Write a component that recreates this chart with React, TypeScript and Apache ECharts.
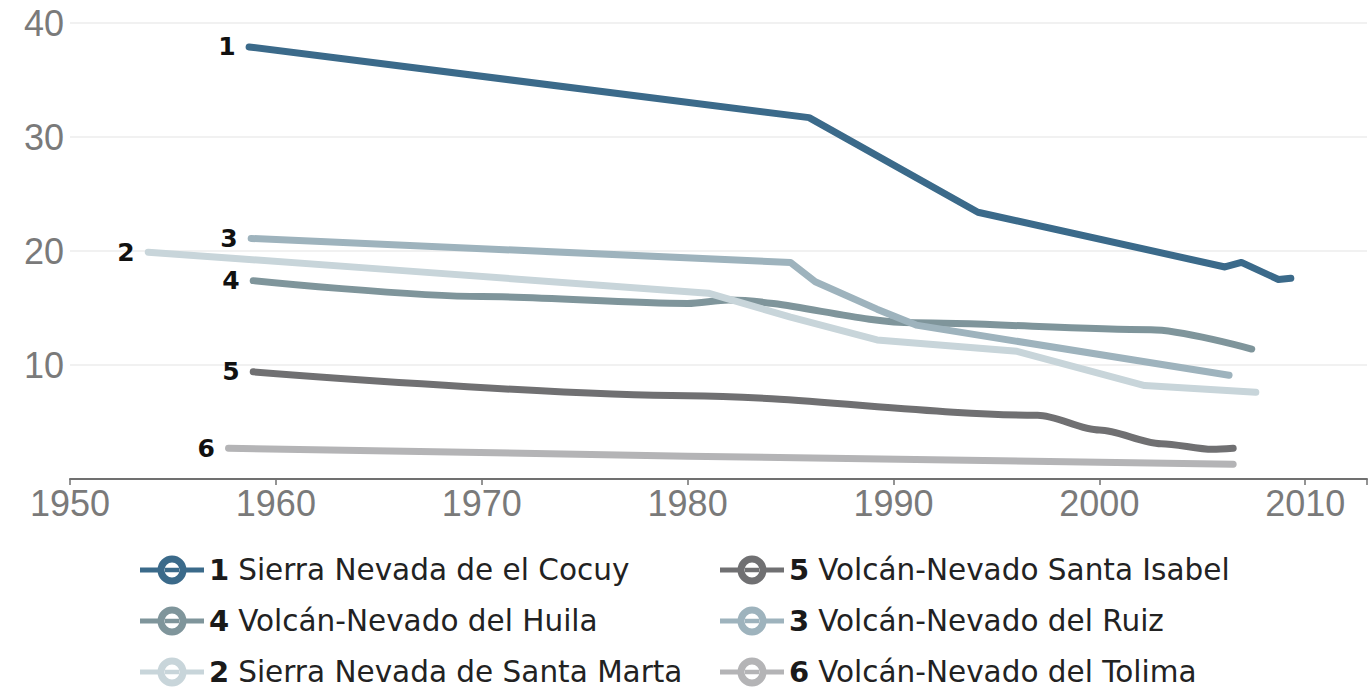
import React, { useEffect, useRef } from 'react';
import * as echarts from 'echarts';

const names = [
  'Sierra Nevada de el Cocuy',
  'Sierra Nevada de Santa Marta',
  'Volcán-Nevado del Ruiz',
  'Volcán-Nevado del Huila',
  'Volcán-Nevado Santa Isabel',
  'Volcán-Nevado del Tolima',
];
const numbers = ['1', '2', '3', '4', '5', '6'];
const colors = ['#3b6a8a', '#c8d5da', '#9eb3bd', '#7f959b', '#707072', '#b4b4b6'];

const cocuyYears = [1958.7, 1985.9, 1994.1, 2006.1, 2006.9, 2008.7, 2009.3];
const cocuyValues = [37.9, 31.7, 23.4, 18.6, 19.0, 17.5, 17.6];

const santaMartaYears = [1953.8, 1966, 1981, 1985, 1989.2, 1996, 2002.2, 2007.6];
const santaMartaValues = [19.9, 18.3, 16.3, 14.2, 12.2, 11.2, 8.2, 7.6];

const ruizYears = [1958.8, 1985, 1986.2, 1989.2, 1991.1, 2006.3];
const ruizValues = [21.1, 19.0, 17.3, 14.9, 13.5, 9.1];

const huilaYears = [1958.9, 1970, 1980, 1982, 1991, 2002.5, 2007.4];
const huilaValues = [17.4, 16.0, 15.4, 15.7, 13.7, 13.1, 11.4];

const isabelYears = [1958.9, 1980, 1997, 2000, 2003, 2005.5, 2006.5];
const isabelValues = [9.4, 7.3, 5.6, 4.3, 3.1, 2.6, 2.7];

const tolimaYears = [1957.7, 1980, 2006.5];
const tolimaValues = [2.7, 2.0, 1.3];

const seriesYears = [cocuyYears, santaMartaYears, ruizYears, huilaYears, isabelYears, tolimaYears];
const seriesValues = [cocuyValues, santaMartaValues, ruizValues, huilaValues, isabelValues, tolimaValues];
const smoothFlags = [false, false, false, true, true, false];

const legendLeftOrder = [0, 3, 1];
const legendRightOrder = [4, 2, 5];

const ICON =
  'path://M0 12.5 L18.3 12.5 L18.3 17.5 L0 17.5 Z ' +
  'M45.7 12.5 L64 12.5 L64 17.5 L45.7 17.5 Z ' +
  'M25 12.8 L39 12.8 L39 17.2 L25 17.2 Z ' +
  'M17.5 15 A14.5 14.5 0 1 1 46.5 15 A14.5 14.5 0 1 1 17.5 15 Z ' +
  'M24.5 15 A7.5 7.5 0 1 0 39.5 15 A7.5 7.5 0 1 0 24.5 15 Z';

export default function App() {
  const ref = useRef<HTMLDivElement>(null);
  useEffect(() => {
    if (!ref.current) return;
    const chart = echarts.init(ref.current, undefined, { renderer: 'svg' });
    const numOf = (name: string) => numbers[names.indexOf(name)];
    const legendCommon = {
      orient: 'vertical' as const,
      top: 555,
      height: 200,
      padding: 0,
      itemWidth: 64,
      itemHeight: 30,
      itemGap: 21,
      itemTextGap: 9,
      icon: ICON,
      selectedMode: false,
      formatter: (name: string) => `{b|${numOf(name)}}{n|${name}}`,
      textStyle: {
        rich: {
          b: { fontFamily: 'DejaVu Sans', fontWeight: 'bold', fontSize: 29, color: '#1a1a1a', lineHeight: 30, padding: [0, 9, 0, 0] },
          n: { fontFamily: 'DejaVu Sans', fontSize: 29.5, color: '#222', lineHeight: 30 },
        },
      },
    };
    const series = names.map((name, i) => ({
      name,
      type: 'line',
      showSymbol: true,
      symbol: 'none',
      smooth: smoothFlags[i] ? 0.3 : false,
      smoothMonotone: 'x',
      color: colors[i],
      lineStyle: { width: 7, color: colors[i], cap: 'round', join: 'round' },
      z: 10 - i,
      data: seriesYears[i].map((y, j) =>
        j === 0
          ? {
              value: [y, seriesValues[i][j]],
              symbol: 'circle',
              symbolSize: 1,
              label: {
                show: true,
                position: 'left',
                distance: 13,
                formatter: numbers[i],
                fontFamily: 'DejaVu Sans',
                fontWeight: 'bold',
                fontSize: 25,
                color: '#111',
              },
            }
          : [y, seriesValues[i][j]]
      ),
    }));
    chart.setOption({
      animation: false,
      backgroundColor: '#ffffff',
      grid: { left: 70, right: 0, top: 23, height: 456 },
      xAxis: {
        type: 'value',
        min: 1950,
        max: 2013,
        interval: 10,
        axisLine: { show: true, onZero: false, lineStyle: { color: '#707070', width: 2 } },
        axisTick: { show: true, length: 6, lineStyle: { color: '#707070', width: 1.5 } },
        splitLine: { show: false },
        axisLabel: {
          margin: 6,
          fontFamily: 'Liberation Sans',
          fontSize: 36,
          color: '#7a7a7a',
          formatter: (v: number) => (v % 10 === 0 ? String(v) : ''),
        },
      },
      yAxis: {
        type: 'value',
        min: 0,
        max: 40,
        interval: 10,
        axisLine: { show: false },
        axisTick: { show: false },
        splitLine: { lineStyle: { color: '#ececec', width: 1.5 } },
        axisLabel: {
          margin: 6,
          fontFamily: 'Liberation Sans',
          fontSize: 36,
          color: '#7a7a7a',
          formatter: (v: number) => (v === 0 ? '' : String(v)),
        },
      },
      legend: [
        { ...legendCommon, left: 140, data: legendLeftOrder.map((i) => names[i]) },
        { ...legendCommon, left: 720, data: legendRightOrder.map((i) => names[i]) },
      ],
      series,
    });
    return () => chart.dispose();
  }, []);
  return (
    <div
      ref={ref}
      style={{ position: 'fixed', left: 0, top: 0, width: 1370, height: 689, background: '#fff' }}
    />
  );
}
